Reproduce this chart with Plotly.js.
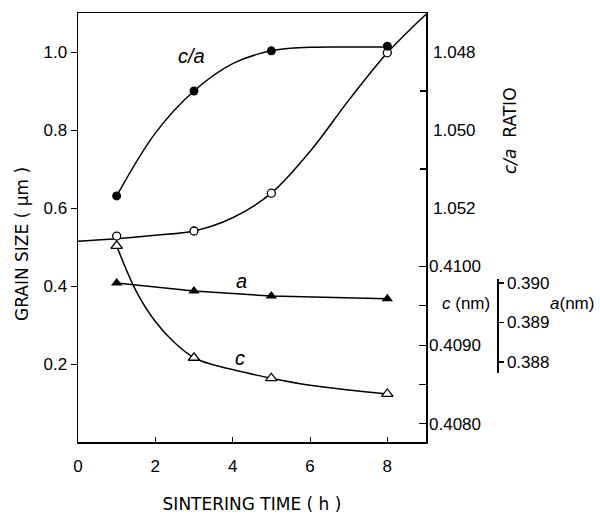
<!DOCTYPE html>
<html>
<head>
<meta charset="utf-8">
<script src="https://cdn.plot.ly/plotly-3.0.1.min.js"></script>
<style>html,body{margin:0;padding:0;background:#fff}#chart{width:600px;height:514px}</style>
</head>
<body>
<div id="chart"></div>
<script>
// measured points
const time = [1, 3, 5, 8];
const grainSize = [0.528, 0.541, 0.638, 0.998];         // µm, open circles
const caRatio = [1.05169, 1.0490, 1.04797, 1.04785];    // filled circles
const cParam = [0.41026, 0.40884, 0.40858, 0.40838];    // nm, open triangles
const aParam = [0.3900, 0.3898, 0.38967, 0.38960];      // nm, filled triangles

// hand-drawn smooth curves
const grainCurveTime = [0, 1, 2, 3, 4, 5, 6, 7, 8, 9];
const grainCurve = [0.515, 0.521, 0.530, 0.541, 0.575, 0.638, 0.745, 0.876, 0.998, 1.097];
const caCurveTime = [1, 2, 3, 4, 5, 6, 7, 8];
const caCurve = [1.05169, 1.05008, 1.0490, 1.0483, 1.04797, 1.04788, 1.04787, 1.04787];
const cCurveTime = [1, 1.5, 2, 2.5, 3, 3.5, 4, 5, 6, 7, 8];
const cCurve = [0.41026, 0.40969, 0.40930, 0.40903, 0.40884, 0.40875, 0.40869, 0.40858, 0.40849, 0.40843, 0.40838];

// tick labels
const xTicks = [0, 2, 4, 6, 8];
const grainTicks = [0.2, 0.4, 0.6, 0.8, 1.0];
const grainTickText = ['0.2', '0.4', '0.6', '0.8', '1.0'];
const caTicks = [1.048, 1.050, 1.052];
const caTickText = ['1.048', '1.050', '1.052'];
const caMinor = [1.049, 1.051];
const cTicks = [0.4080, 0.4085, 0.4090, 0.4095, 0.4100];
const cTickText = ['0.4080', '', '0.4090', '', '0.4100'];
const aTicks = [0.388, 0.389, 0.390];
const aTickText = ['0.388', '0.389', '0.390'];

const FONT = 'Liberation Sans, Arial, sans-serif';
const TITLE_FONT = 'DejaVu Sans, Liberation Sans, sans-serif';
const lineStyle = {color: 'black', width: 1.5, shape: 'spline', smoothing: 1};

const traces = [
  {x: grainCurveTime, y: grainCurve, mode: 'lines', line: lineStyle, yaxis: 'y', hoverinfo: 'skip'},
  {x: caCurveTime, y: caCurve, mode: 'lines', line: lineStyle, yaxis: 'y2', hoverinfo: 'skip'},
  {x: cCurveTime, y: cCurve, mode: 'lines', line: lineStyle, yaxis: 'y3', hoverinfo: 'skip'},
  {x: time, y: aParam, mode: 'lines+markers', yaxis: 'y4', cliponaxis: false,
   line: {color: 'black', width: 1.5},
   marker: {symbol: 'triangle-up', size: 10, color: 'black'}},
  {x: time, y: grainSize, mode: 'markers', yaxis: 'y', cliponaxis: false,
   marker: {symbol: 'circle', size: 8, color: 'white', line: {color: 'black', width: 1.3}}},
  {x: time, y: caRatio, mode: 'markers', yaxis: 'y2', cliponaxis: false,
   marker: {symbol: 'circle', size: 9, color: 'black'}},
  {x: time, y: cParam, mode: 'markers', yaxis: 'y3', cliponaxis: false,
   marker: {symbol: 'triangle-up', size: 10, color: 'white', line: {color: 'black', width: 1.3}}}
];

const W = 600, H = 514, L = 78, R = 100, T = 13, B = 72;
const pw = W - L - R, ph = H - T - B;
const xDomEnd = (426 - L) / pw;
const px = v => (v - L) / pw;
const py = v => (H - B - v) / ph;

const layout = {
  width: W, height: H,
  margin: {l: L, r: R, t: T, b: B},
  paper_bgcolor: 'white', plot_bgcolor: 'rgba(0,0,0,0)',
  font: {family: FONT, size: 17, color: 'black'},
  showlegend: false,
  xaxis: {
    domain: [0, xDomEnd], range: [0, 9],
    tickvals: xTicks, ticks: 'inside', ticklen: 5, tickcolor: 'black',
    showline: true, mirror: true, linecolor: 'black', linewidth: 1.5,
    showgrid: false, zeroline: false, ticklabelstandoff: 8,
    title: {text: 'SINTERING TIME ( h )', font: {family: TITLE_FONT, size: 17}, standoff: 24}
  },
  yaxis: {
    range: [0, 1.1],
    tickvals: grainTicks, ticktext: grainTickText,
    ticks: 'outside', ticklen: 6, tickcolor: 'black',
    showline: true, mirror: true, linecolor: 'black', linewidth: 1.5,
    showgrid: false, zeroline: false
  },
  yaxis2: {
    overlaying: 'y', side: 'right', anchor: 'x',
    range: [1.058, 1.047],
    tickvals: caTicks, ticktext: caTickText,
    ticks: '', showline: false, showgrid: false, zeroline: false,
    ticklabelstandoff: 6,
    minor: {tickmode: 'array', tickvals: caMinor, ticks: 'inside', ticklen: 6, tickcolor: 'black', tickwidth: 1.2, showgrid: false}
  },
  yaxis3: {
    overlaying: 'y', side: 'right', anchor: 'x',
    range: [0.40777, 0.413217],
    tickvals: cTicks, ticktext: cTickText,
    ticks: 'inside', ticklen: 7, tickcolor: 'black', tickwidth: 1.2,
    showline: false, showgrid: false, zeroline: false,
    ticklabelstandoff: 2
  },
  yaxis4: {
    domain: [py(373), py(279)],
    anchor: 'free', position: px(497), side: 'right',
    range: [0.387722, 0.390101],
    tickvals: aTicks, ticktext: aTickText,
    ticks: 'outside', ticklen: 5, tickcolor: 'black', tickwidth: 1.2,
    showline: true, linecolor: 'black', linewidth: 1.5,
    showgrid: false, zeroline: false
  },
  annotations: [
    {text: 'GRAIN SIZE ( μm )', xref: 'paper', yref: 'paper', x: px(22), y: py(244),
     textangle: -90, showarrow: false, font: {family: TITLE_FONT, size: 17}, xanchor: 'center', yanchor: 'middle'},
    {text: '<i>c/a</i>', xref: 'x', yref: 'y', x: 2.94, y: 0.99, showarrow: false, font: {size: 20}, xanchor: 'center', yanchor: 'middle'},
    {text: '<i>a</i>', xref: 'x', yref: 'y', x: 4.23, y: 0.413, showarrow: false, font: {size: 20}, xanchor: 'center', yanchor: 'middle'},
    {text: '<i>c</i>', xref: 'x', yref: 'y', x: 4.18, y: 0.215, showarrow: false, font: {size: 20}, xanchor: 'center', yanchor: 'middle'},
    {text: '<i>c/a</i>  RATIO', xref: 'paper', yref: 'paper', x: px(510), y: py(130),
     textangle: -90, showarrow: false, font: {family: TITLE_FONT, size: 17}, xanchor: 'center', yanchor: 'middle'},
    {text: '<i>c</i> (nm)', xref: 'paper', yref: 'paper', x: px(466), y: py(303),
     showarrow: false, font: {size: 17}, xanchor: 'center', yanchor: 'middle'},
    {text: '<i>a</i>(nm)', xref: 'paper', yref: 'paper', x: px(572), y: py(303),
     showarrow: false, font: {size: 17}, xanchor: 'center', yanchor: 'middle'}
  ]
};

Plotly.newPlot('chart', traces, layout, {staticPlot: true, displayModeBar: false});
</script>
</body>
</html>
